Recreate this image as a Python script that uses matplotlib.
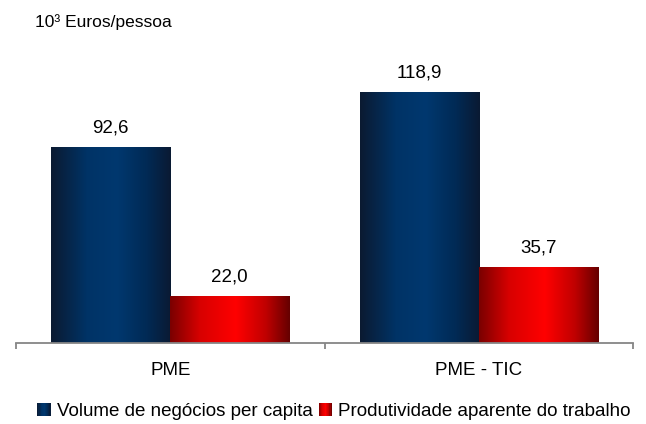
import matplotlib
matplotlib.use('Agg')
import matplotlib.pyplot as plt
from matplotlib.colors import LinearSegmentedColormap
from matplotlib.legend_handler import HandlerPatch
from matplotlib.patches import Rectangle
import numpy as np

plt.rcParams['font.family'] = ['Liberation Sans', 'DejaVu Sans']

categories = ['PME', 'PME - TIC']
series_names = ['Volume de negócios per capita',
                'Produtividade aparente do trabalho']
volume = [92.6, 118.9]
produtividade = [22.0, 35.7]
unit_label = '10³ Euros/pessoa'

cmap_blue = LinearSegmentedColormap.from_list(
    'blue', [(0.0, '#0b1a31'), (0.3, '#003366'), (0.55, '#00386f'),
             (0.8, '#012a55'), (1.0, '#0a1a33')])
cmap_red = LinearSegmentedColormap.from_list(
    'red', [(0.0, '#7a0000'), (0.25, '#d80000'), (0.55, '#ff0000'),
            (0.8, '#c00000'), (1.0, '#650000')])


class GradientHandler(HandlerPatch):
    # legend square drawn as thin vertical stripes
    def __init__(self, cmap, **kw):
        super().__init__(**kw)
        self.cmap = cmap

    def create_artists(self, legend, orig_handle, xdescent, ydescent,
                       width, height, fontsize, trans):
        n = 12
        side = height * 1.0
        x0 = -xdescent + (width - side)
        y0 = -ydescent + (height - side) / 2 - 0.5
        arts = []
        for i in range(n):
            r = Rectangle((x0 + side * i / n, y0), side / n + 0.2, side,
                          facecolor=self.cmap((i + 0.5) / n), edgecolor='none',
                          transform=trans)
            arts.append(r)
        return arts


fig = plt.figure(figsize=(6.46, 4.24), dpi=100)
ax = fig.add_axes([16 / 646, 81 / 424, 617 / 646, 295 / 424])

x = np.arange(len(categories))
w = 0.386
b1 = ax.bar(x - w / 2, volume, w, color='none', edgecolor='none')
b2 = ax.bar(x + w / 2, produtividade, w, color='none', edgecolor='none')

grad = np.linspace(0, 1, 256).reshape(1, -1)
for bars, cmap, vals in [(b1, cmap_blue, volume), (b2, cmap_red, produtividade)]:
    for rect, v in zip(bars, vals):
        x0 = rect.get_x()
        ax.imshow(grad, cmap=cmap, aspect='auto', interpolation='bilinear',
                  extent=(x0, x0 + rect.get_width(), 0, rect.get_height()),
                  zorder=2)
        ax.annotate(f'{v:.1f}'.replace('.', ','),
                    (x0 + rect.get_width() / 2, rect.get_height()),
                    xytext=(0, 8), textcoords='offset points',
                    ha='center', va='bottom', fontsize=13.5)

ax.set_xlim(-0.5, len(categories) - 0.5)
ax.set_ylim(0, 140)

for s in ['top', 'right', 'left']:
    ax.spines[s].set_visible(False)
ax.spines['bottom'].set_color('#868686')
ax.spines['bottom'].set_linewidth(1.3)
ax.spines['bottom'].set_zorder(3)
ax.set_yticks([])
ax.set_xticks(x)
ax.set_xticklabels(categories, fontsize=13.5)
ax.tick_params(axis='x', which='major', length=0, pad=14)
ax.set_xticks(np.arange(len(categories) + 1) - 0.5, minor=True)
ax.tick_params(axis='x', which='minor', length=4.5, width=1.3,
               color='#868686', direction='out')

fig.text(35 / 646, 1 - 22 / 424, unit_label, fontsize=12.5,
         ha='left', va='center')

h1 = Rectangle((0, 0), 1, 1)
h2 = Rectangle((0, 0), 1, 1)
fig.legend([h1, h2], series_names, loc='center',
           bbox_to_anchor=(334 / 646, 1 - 411 / 424), ncol=2, frameon=False,
           fontsize=13.5, handlelength=0.7, handletextpad=0.35,
           columnspacing=0.3,
           handler_map={h1: GradientHandler(cmap_blue),
                        h2: GradientHandler(cmap_red)})

fig.savefig('out.png', dpi=100)
